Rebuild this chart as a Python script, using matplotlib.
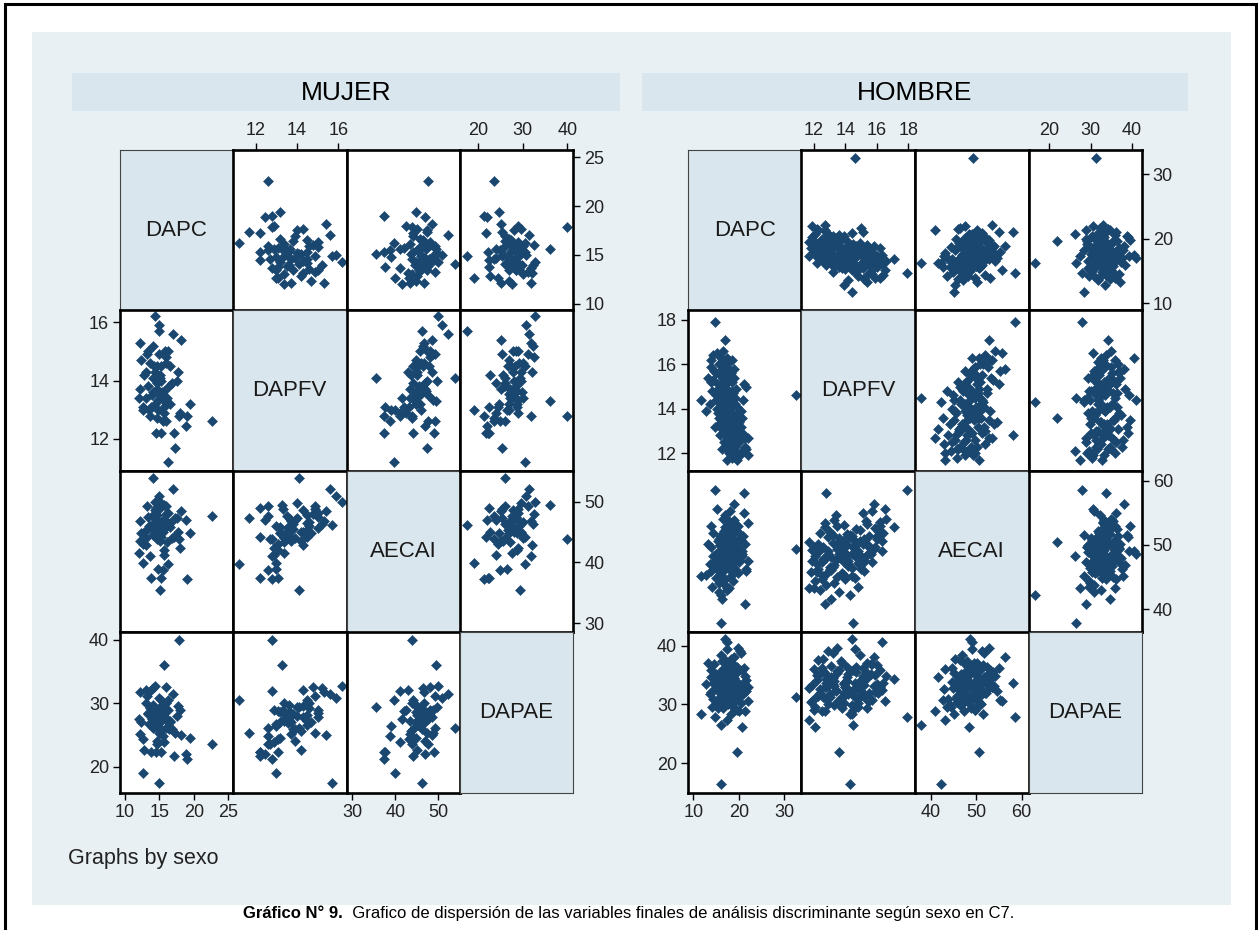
import matplotlib.pyplot as plt
from matplotlib.patches import Rectangle

W, H = 1258, 930

VARS = ["DAPC", "DAPFV", "AECAI", "DAPAE"]

# ---- MUJER --------------------------------------------------------------
muj_dapc = [22.6, 17.9, 14.9, 12.6, 15.6, 16.2, 14.3, 14.1, 15.1, 15.0,
            17.0, 18.2, 12.1, 13.4, 15.8, 16.3, 12.3, 13.6, 14.2, 14.6,
            15.3, 16.5, 17.7, 15.1, 14.4, 13.1, 12.1, 13.4, 14.6, 14.0,
            14.9, 15.6, 16.4, 12.0, 13.0, 13.9, 14.8, 15.5, 12.6, 13.8,
            14.8, 15.7, 16.6, 19.4, 18.0, 19.0, 18.9, 13.7, 14.6, 15.9,
            15.5, 14.5, 15.3, 17.2, 17.3, 13.2, 14.0, 16.0, 15.2, 14.7,
            12.8, 16.9, 15.4, 14.3, 15.9, 13.5, 16.1, 14.9, 17.5, 15.6]
muj_dapfv = [12.6, 12.8, 15.7, 13.0, 13.3, 11.2, 16.2, 14.1, 14.1, 15.9,
             15.6, 15.4, 15.3, 15.0, 15.0, 15.0, 14.7, 14.6, 14.5, 14.5,
             14.5, 14.5, 14.3, 14.2, 14.3, 14.3, 13.7, 13.8, 13.7, 13.6,
             13.55, 13.65, 13.8, 13.4, 13.4, 13.5, 13.35, 13.45, 13.1, 13.1,
             13.0, 13.1, 13.2, 13.2, 12.9, 12.8, 12.45, 12.8, 12.7, 12.6,
             12.6, 12.2, 12.2, 12.2, 11.7, 14.9, 15.2, 14.8, 14.0, 13.9,
             14.2, 13.9, 13.6, 13.2, 14.6, 13.0, 13.4, 14.9, 14.0, 12.9]
muj_aecai = [47.6, 43.8, 46.2, 39.9, 49.5, 39.8, 50.0, 54.0, 35.4, 51.0,
             52.2, 48.5, 46.8, 47.5, 45.7, 48.2, 44.8, 46.0, 45.3, 47.9,
             44.2, 46.5, 45.1, 43.6, 48.6, 42.9, 43.5, 45.5, 46.9, 44.6,
             45.9, 47.2, 46.3, 41.6, 44.0, 47.6, 48.9, 45.0, 43.1, 37.5,
             39.0, 42.1, 45.8, 44.9, 42.4, 37.3, 47.0, 41.0, 43.9, 49.3,
             38.7, 49.0, 37.4, 44.2, 47.3, 49.3, 46.4, 48.0, 49.8, 47.0,
             45.0, 44.1, 45.4, 44.8, 46.7, 46.1, 43.4, 48.9, 47.3, 41.2]
muj_dapae = [23.6, 40.0, 17.5, 19.0, 36.0, 30.6, 32.8, 26.1, 29.4, 30.8,
             31.5, 25.0, 31.8, 28.5, 27.9, 28.9, 27.0, 29.2, 26.6, 28.2,
             30.5, 27.3, 29.6, 25.6, 27.8, 32.1, 25.2, 28.4, 27.1, 29.8,
             26.9, 28.7, 25.9, 27.5, 30.1, 27.6, 29.0, 28.1, 24.4, 22.4,
             26.4, 28.8, 27.0, 24.6, 29.0, 21.3, 22.0, 31.9, 23.6, 26.1,
             24.9, 22.4, 22.3, 21.7, 25.4, 31.2, 32.4, 32.6, 29.5, 24.0,
             22.6, 26.0, 27.4, 28.6, 30.0, 26.8, 27.2, 25.4, 28.0, 23.9]

# ---- HOMBRE -------------------------------------------------------------
hom_dapc = [32.5, 14.7, 16.9, 21.1, 16.2, 16.2, 19.6, 17.0, 11.8, 21.4,
            22.1, 21.9, 21.6, 20.5, 17.5, 20.3, 19.8, 18.9, 21.1, 21.3,
            20.8, 15.2, 14.0, 15.6, 16.8, 14.6, 15.9, 16.5, 13.8, 17.9,
            16.1, 15.4, 18.6, 17.2, 14.9, 19.2, 16.7, 15.8, 18.1, 17.6,
            19.9, 16.4, 18.4, 17.1, 20.1, 15.6, 19.0, 17.7, 18.8, 20.7,
            16.9, 19.4, 18.3, 20.0, 17.4, 19.1, 21.5, 18.7, 17.8, 20.2,
            18.5, 19.5, 17.3, 16.0, 15.0, 14.4, 13.9, 14.2, 13.6, 12.8,
            13.3, 16.6, 15.7, 17.0, 18.0, 16.3, 18.2, 17.4, 19.7, 16.8,
            18.9, 17.9, 15.3, 16.5, 17.2, 19.3, 18.6, 16.2, 17.6, 18.3,
            19.8, 15.1, 16.9, 18.0, 17.3, 16.4, 20.4, 19.0, 15.9, 17.7,
            18.5, 16.0, 17.5, 18.8, 16.7, 19.6, 17.1, 15.5, 18.1, 17.8,
            20.6, 16.6, 18.4, 17.0, 15.8, 19.1, 16.8, 18.7, 17.4, 14.8,
            20.9, 16.3, 18.2, 17.6, 15.4, 19.3, 16.1, 17.9, 18.6, 14.3]
hom_dapfv = [14.6, 17.9, 17.1, 12.8, 14.5, 14.3, 13.6, 14.4, 14.4, 12.7,
             12.7, 11.9, 15.0, 13.2, 16.3, 12.9, 13.5, 15.8, 15.1, 12.3,
             12.1, 16.5, 16.2, 16.0, 16.1, 15.7, 15.5, 15.4, 15.2, 15.3,
             15.0, 14.9, 14.8, 14.7, 14.6, 14.5, 14.2, 14.1, 14.0, 13.9,
             13.8, 13.7, 13.6, 13.5, 13.4, 13.3, 13.2, 13.1, 13.0, 12.9,
             12.8, 12.7, 12.6, 12.5, 12.4, 12.3, 12.2, 12.1, 12.0, 11.9,
             11.8, 11.7, 11.7, 14.9, 15.6, 16.4, 15.9, 14.8, 14.2, 13.9,
             15.4, 16.6, 13.6, 13.4, 15.7, 13.1, 14.3, 14.6, 14.1, 13.0,
             13.3, 14.5, 14.0, 15.2, 15.1, 14.9, 13.8, 13.5, 12.9, 12.4,
             12.6, 14.4, 14.0, 13.7, 16.0, 15.8, 13.9, 15.4, 12.8, 12.2,
             14.6, 14.2, 13.3, 14.7, 12.5, 12.0, 15.5, 15.1, 13.0, 14.8,
             13.6, 13.9, 15.2, 12.3, 14.7, 14.2, 13.6, 12.8, 15.9, 13.2,
             14.4, 12.2, 15.6, 14.1, 13.8, 13.1, 16.3, 12.6, 16.2, 15.3]
hom_aecai = [49.3, 58.5, 52.8, 58.0, 37.8, 42.2, 50.5, 48.6, 45.1, 40.8,
             53.4, 47.5, 46.3, 51.6, 49.0, 51.2, 52.9, 56.4, 54.9, 50.2,
             48.3, 55.6, 53.0, 50.9, 52.1, 47.4, 51.3, 49.9, 45.9, 53.7,
             48.2, 50.6, 47.1, 52.4, 44.9, 49.6, 46.7, 50.0, 48.8, 53.1,
             45.6, 47.9, 51.1, 49.4, 47.6, 44.1, 50.3, 48.1, 46.5, 49.0,
             43.8, 52.7, 45.2, 47.3, 42.9, 48.9, 46.0, 44.4, 43.2, 49.2,
             45.8, 50.5, 43.2, 46.9, 48.5, 51.8, 49.7, 43.5, 47.0, 45.3,
             50.2, 54.1, 42.6, 54.6, 55.2, 41.5, 51.5, 49.1, 48.4, 46.2,
             53.9, 50.8, 48.0, 47.7, 50.1, 52.3, 49.5, 45.0, 48.6, 51.9,
             47.8, 46.4, 44.7, 49.8, 51.4, 49.3, 50.7, 53.3, 45.5, 47.0,
             48.3, 51.0, 46.8, 50.4, 44.6, 49.6, 48.7, 47.2, 52.0, 49.0,
             48.5, 47.4, 50.9, 46.3, 49.9, 47.5, 50.3, 48.0, 52.6, 46.6,
             51.3, 45.7, 49.4, 51.7, 48.9, 46.1, 50.6, 49.7, 53.5, 48.2]
hom_dapae = [31.3, 27.9, 34.3, 33.7, 26.4, 16.5, 21.8, 41.1, 28.4, 28.8,
             33.0, 30.5, 32.2, 38.8, 40.6, 39.0, 39.6, 38.0, 36.2, 34.8,
             26.2, 30.6, 35.8, 33.4, 31.9, 36.9, 32.0, 29.4, 34.6, 35.5,
             31.5, 33.9, 30.2, 36.3, 32.7, 29.1, 35.1, 34.0, 32.9, 33.6,
             31.1, 37.4, 30.0, 35.7, 32.4, 29.8, 34.4, 36.6, 31.7, 33.1,
             30.9, 35.3, 37.8, 28.9, 32.6, 31.4, 34.1, 29.6, 36.0, 33.3,
             30.4, 32.8, 27.3, 38.4, 35.2, 33.7, 32.1, 29.5, 31.8, 33.5,
             37.1, 34.9, 30.7, 32.3, 30.8, 34.7, 28.3, 39.4, 36.4, 31.2,
             33.2, 35.9, 33.0, 31.6, 34.2, 32.5, 37.0, 35.4, 30.1, 32.0,
             35.6, 29.9, 33.8, 31.0, 36.7, 33.1, 30.3, 34.5, 32.9, 35.0,
             33.6, 32.2, 34.0, 31.3, 36.2, 29.0, 30.5, 34.8, 33.8, 32.7,
             35.8, 31.9, 33.3, 37.6, 35.5, 32.6, 30.6, 34.3, 35.0, 33.4,
             31.8, 31.5, 36.8, 34.6, 29.3, 33.9, 32.4, 31.2, 33.0, 30.9]

# axis ranges and tick values for each variable, per group
muj_lims = [(9.3, 25.7), (10.9, 16.4), (28.6, 55.1), (15.9, 41.3)]
muj_ticks = [[10, 15, 20, 25], [12, 14, 16], [30, 40, 50], [20, 30, 40]]
hom_lims = [(8.9, 33.65), (11.2, 18.42), (36.5, 61.5), (14.9, 42.4)]
hom_ticks = [[10, 20, 30], [12, 14, 16, 18], [40, 50, 60], [20, 30, 40]]

# ---- style ----------------------------------------------------------------
BG = "#e8f0f3"
BAND = "#d9e6ed"
MARK = "#1a476f"
FONT = "Liberation Sans"
plt.rcParams["font.family"] = FONT

ROWS = [150.5, 310.5, 471.0, 631.5, 793.0]
COLS_M = [120.3, 232.8, 346.5, 460.0, 573.1]
COLS_H = [688.2, 801.1, 915.1, 1028.5, 1141.7]

fig = plt.figure(figsize=(W / 100, H / 100), dpi=100)
fig.patch.set_facecolor("white")

ov = fig.add_axes([0, 0, 1, 1], zorder=0)
ov.set_xlim(0, W)
ov.set_ylim(H, 0)
ov.axis("off")

# page frame and graph background
ov.plot([5, 5, 1255.5, 1255.5], [H + 5, 4, 4, H + 5], color="black", lw=2.2,
        solid_joinstyle="miter", clip_on=False)
ov.add_patch(Rectangle((32, 32), 1199, 873, facecolor=BG, edgecolor="none"))


def px_axes(x0, y0, x1, y1, **kw):
    return fig.add_axes([x0 / W, 1 - y1 / H, (x1 - x0) / W, (y1 - y0) / H], **kw)


def draw_matrix(cols, data, lims, ticks, title, bar):
    ov.add_patch(Rectangle((bar[0], 73.5), bar[1] - bar[0], 37.5,
                           facecolor=BAND, edgecolor="none"))
    ov.text((bar[0] + bar[1]) / 2, 92.5, title, ha="center", va="center",
            fontsize=19, color="black")
    n = len(VARS)
    for i in range(n):
        for j in range(n):
            ax = px_axes(cols[j], ROWS[i], cols[j + 1], ROWS[i + 1], zorder=2)
            ax.set_xlim(*lims[j])
            ax.set_ylim(*lims[i])
            ax.tick_params(which="both", bottom=False, top=False, left=False,
                           right=False, labelbottom=False, labeltop=False,
                           labelleft=False, labelright=False)
            ax.tick_params(length=5, width=1, pad=3, labelsize=13,
                           labelcolor="#222222", color="black")
            if i == j:
                ax.set_facecolor(BAND)
                for s in ax.spines.values():
                    s.set_color("#444444")
                    s.set_linewidth(0.8)
                ax.text(0.5, 0.5, VARS[i], transform=ax.transAxes,
                        ha="center", va="center", fontsize=16, color="#1a1a1a")
            else:
                ax.set_facecolor("white")
                for s in ax.spines.values():
                    s.set_color("black")
                    s.set_linewidth(1.9)
                ax.plot(data[j], data[i], linestyle="none", marker="D",
                        ms=5.4, mfc=MARK, mec=MARK, mew=0.4, clip_on=True)
            ax.set_xticks(ticks[j])
            ax.set_yticks(ticks[i])
            # Stata-style alternating axes around the matrix
            if i == 0 and j % 2 == 1:
                ax.tick_params(top=True, labeltop=True)
            if i == n - 1 and j % 2 == 0:
                ax.tick_params(bottom=True, labelbottom=True)
            if j == 0 and i % 2 == 1:
                ax.tick_params(left=True, labelleft=True)
            if j == n - 1 and i % 2 == 0:
                ax.tick_params(right=True, labelright=True)


draw_matrix(COLS_M, [muj_dapc, muj_dapfv, muj_aecai, muj_dapae],
            muj_lims, muj_ticks, "MUJER", (72, 620))
draw_matrix(COLS_H, [hom_dapc, hom_dapfv, hom_aecai, hom_dapae],
            hom_lims, hom_ticks, "HOMBRE", (641.5, 1187.6))

ov.text(68, 858, "Graphs by sexo", ha="left", va="center", fontsize=15.5,
        color="#222222")

# caption below the graph
cap = ov.text(243, 913, "Gráfico N° 9.", ha="left", va="center",
              fontsize=12, fontweight="bold", color="black")
ov.annotate("  Grafico de dispersión de las variables finales de análisis "
            "discriminante según sexo en C7.",
            xy=(1, 0), xycoords=cap, xytext=(0, 0), textcoords="offset points",
            ha="left", va="bottom", fontsize=12, color="black")

fig.savefig("out.png", dpi=100, facecolor="white")
